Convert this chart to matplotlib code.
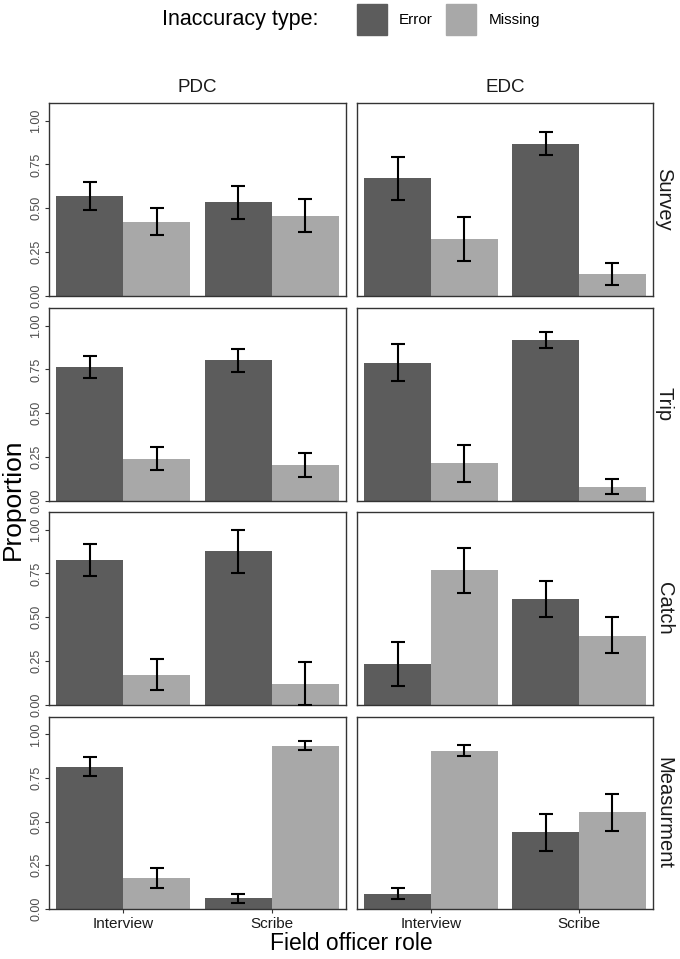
import matplotlib
matplotlib.use("Agg")
import matplotlib.pyplot as plt
import numpy as np
from matplotlib.patches import Rectangle

plt.rcParams['font.family'] = ['Liberation Sans', 'DejaVu Sans']

roles = ["Interview", "Scribe"]
types = ["Error", "Missing"]
methods = ["PDC", "EDC"]
levels = ["Survey", "Trip", "Catch", "Measurment"]

# rows = levels, cols = roles
pdc_error = [[0.571, 0.533], [0.761, 0.801], [0.824, 0.877], [0.816, 0.061]]
pdc_error_lo = [[0.493, 0.440], [0.699, 0.735], [0.737, 0.752], [0.763, 0.036]]
pdc_error_hi = [[0.651, 0.629], [0.825, 0.867], [0.915, 0.998], [0.873, 0.087]]
pdc_missing = [[0.421, 0.457], [0.242, 0.203], [0.170, 0.117], [0.176, 0.936]]
pdc_missing_lo = [[0.345, 0.364], [0.179, 0.137], [0.083, 0.000], [0.123, 0.909]]
pdc_missing_hi = [[0.503, 0.554], [0.306, 0.271], [0.261, 0.244], [0.233, 0.960]]

edc_error = [[0.670, 0.869], [0.788, 0.917], [0.231, 0.602], [0.087, 0.439]]
edc_error_lo = [[0.547, 0.802], [0.684, 0.872], [0.108, 0.500], [0.059, 0.335]]
edc_error_hi = [[0.794, 0.935], [0.897, 0.962], [0.358, 0.706], [0.121, 0.544]]
edc_missing = [[0.324, 0.124], [0.214, 0.081], [0.767, 0.396], [0.907, 0.555]]
edc_missing_lo = [[0.198, 0.061], [0.107, 0.040], [0.640, 0.295], [0.875, 0.449]]
edc_missing_hi = [[0.448, 0.190], [0.321, 0.126], [0.892, 0.500], [0.939, 0.659]]

data = {
    "PDC": {"Error": (pdc_error, pdc_error_lo, pdc_error_hi),
            "Missing": (pdc_missing, pdc_missing_lo, pdc_missing_hi)},
    "EDC": {"Error": (edc_error, edc_error_lo, edc_error_hi),
            "Missing": (edc_missing, edc_missing_lo, edc_missing_hi)},
}
colors = {"Error": "#5c5c5c", "Missing": "#a8a8a8"}

W, H = 680, 959
fig = plt.figure(figsize=(W / 100, H / 100), dpi=100)

col_x = [(49, 346), (357, 653)]
row_y = [(103, 296), (308, 501), (512, 705), (717, 909)]

def ax_rect(x0, x1, y0, y1):
    return [x0 / W, 1 - y1 / H, (x1 - x0) / W, (y1 - y0) / H]

bw = 0.45
x = np.arange(1, len(roles) + 1)
for r, lev in enumerate(levels):
    for c, m in enumerate(methods):
        ax = fig.add_axes(ax_rect(col_x[c][0], col_x[c][1], row_y[r][0], row_y[r][1]))
        for k, t in enumerate(types):
            vals, lo, hi = data[m][t]
            v = np.array(vals[r]); l = np.array(lo[r]); h = np.array(hi[r])
            pos = x + (k - 0.5) * bw
            ax.bar(pos, v, width=bw, color=colors[t], zorder=2)
            ax.errorbar(pos, v, yerr=[v - l, h - v], fmt='none', ecolor='black',
                        elinewidth=1.5, capsize=5, capthick=1.5, zorder=3)
        ax.set_xlim(0.5, 2.5)
        ax.set_ylim(0, 1.1)
        for s in ax.spines.values():
            s.set_color('#333333')
            s.set_linewidth(1.0)
        ax.set_yticks([0, 0.25, 0.5, 0.75, 1.0])
        ax.set_xticks(x)
        if c == 0:
            ax.set_yticklabels(["0.00", "0.25", "0.50", "0.75", "1.00"], rotation=90,
                               va='center', fontsize=9, color='#4d4d4d')
            ax.tick_params(axis='y', length=3, width=0.8, color='#333333', pad=2)
        else:
            ax.set_yticklabels([])
            ax.tick_params(axis='y', length=0)
        if r == len(levels) - 1:
            ax.set_xticklabels(roles, fontsize=11, color='#1a1a1a')
            ax.tick_params(axis='x', length=3, width=0.8, color='#333333', pad=3)
        else:
            ax.set_xticklabels([])
            ax.tick_params(axis='x', length=0)
        if r == 0:
            ax.text(0.5, 1.0 + 16 / 193, m, transform=ax.transAxes, ha='center',
                    va='center', fontsize=13.5, color='#1a1a1a')
        if c == 1:
            ax.text(1.0 + 11 / 296, 0.5, lev, transform=ax.transAxes, ha='center',
                    va='center', rotation=-90, fontsize=14.5, color='#1a1a1a')

fig.text(351 / W, 1 - 944 / H, "Field officer role", ha='center', va='center', fontsize=16.5)
fig.text(13 / W, 1 - 499 / H, "Proportion", ha='center', va='center', rotation=90, fontsize=19)

# legend
fig.text(240 / W, 1 - 20 / H, "Inaccuracy type:", ha='center', va='center', fontsize=15.5)
key_pos = [(357, 399), (446, 489)]
for t, (kx, tx) in zip(types, key_pos):
    fig.patches.append(Rectangle((kx / W, 1 - 35 / H), 30 / W, 31 / H,
                                 transform=fig.transFigure, color=colors[t]))
    fig.text(tx / W, 1 - 20 / H, t, ha='left', va='center', fontsize=11)

fig.savefig("out.png", dpi=100)
